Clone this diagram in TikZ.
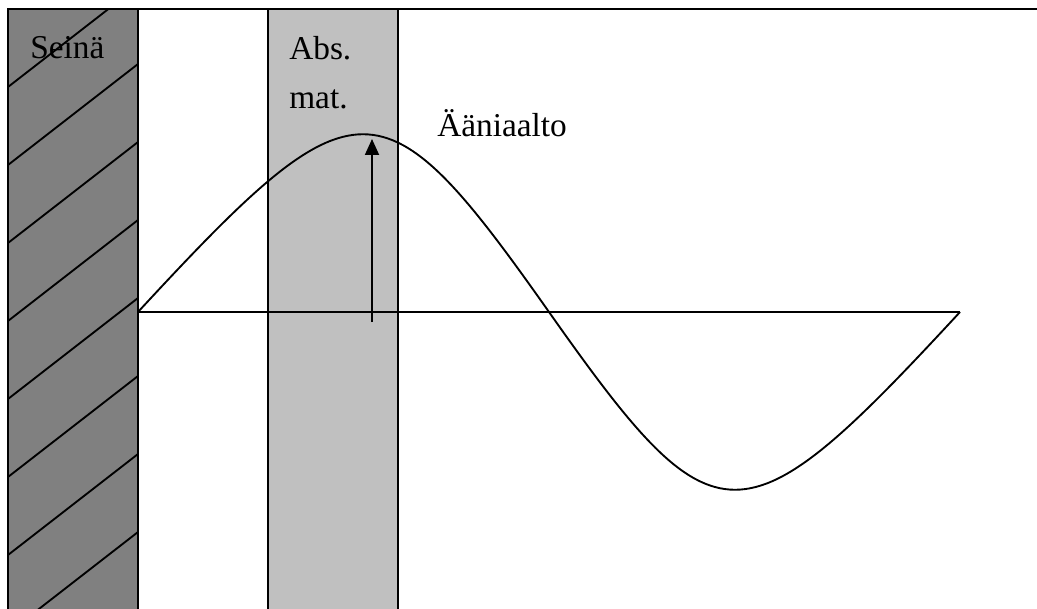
\documentclass[tikz,border=0pt]{standalone}
\usepackage{fontspec}
\setmainfont{Liberation Serif}
\usetikzlibrary{arrows.meta}
\definecolor{wallgray}{RGB}{128,128,128}
\definecolor{absgray}{RGB}{192,192,192}
\tikzset{
  outline/.style={draw=black, line width=1.4pt},
  hatch/.style={draw=black, line width=1.4pt},
  wave/.style={draw=black, line width=1.4pt},
  ampl/.style={-{Triangle[length=12pt,width=10.5pt]}, line width=1.4pt},
  labeltext/.style={font=\fontsize{25}{36.75}\selectfont, inner sep=0pt}
}
\begin{document}
\begin{tikzpicture}[x=0.75pt, y=-0.75pt]
  \useasboundingbox (0,0) rectangle (1037,609);
  \clip (0,0) rectangle (1037,609);
  % wall with hatching
  \fill[wallgray] (8,9) rectangle (138,620);
  \begin{scope}
    \clip (8,9) rectangle (138,620);
    \foreach \k in {0,...,7}
      \draw[hatch] (8,87+78*\k) -- ++(130,-101);
  \end{scope}
  \draw[outline] (8,620) -- (8,9) -- (138,9) -- (138,620);
  % absorbing material
  \draw[outline, fill=absgray] (268,620) -- (268,9) -- (398,9) -- (398,620);
  \draw[outline] (138,9) -- (1037,9);
  % sound wave
  \coordinate (w0) at (138,312);
  \coordinate (w1) at (549,312);
  \coordinate (w2) at (960,312);
  \draw[wave] (w0) .. controls (357,75) and (382,75) .. (w1)
              .. controls (716,549) and (741,549) .. (w2);
  \draw[outline] (w0) -- (w2);
  \coordinate (foot) at (372,322);
  \coordinate (crest) at (372,139);
  \draw[ampl] (foot) -- (crest);
  % labels
  \node[labeltext, anchor=base west] (seina) at (30,59) {Seinä};
  \node[labeltext, anchor=north west, align=left] (absmat) at (289,36) {Abs.\\mat.};
  \node[labeltext, anchor=base west] (aaniaalto) at (437,137) {Ääniaalto};
\end{tikzpicture}
\end{document}
